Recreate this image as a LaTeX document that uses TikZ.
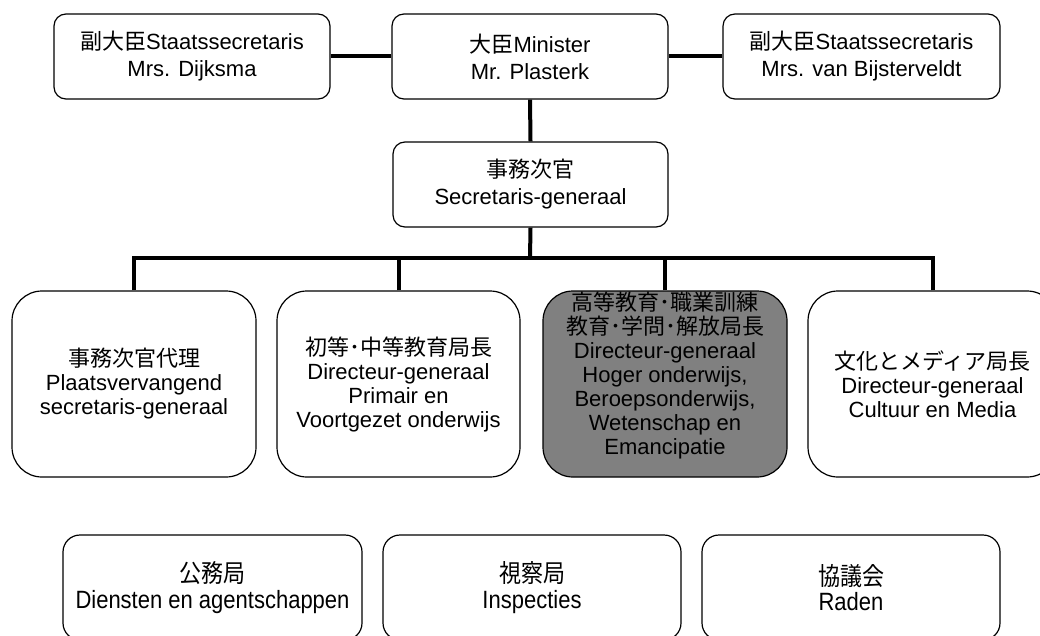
\documentclass[tikz,border=0pt]{standalone}
\usepackage{fontspec}
\setmainfont{Liberation Sans}
\newfontfamily\cjk{Noto Sans CJK JP}
\newfontfamily\narrowfont[FakeStretch=0.88]{Liberation Sans}
\newfontfamily\narrowcjk[FakeStretch=0.88]{Noto Sans CJK JP}
\begin{document}
\begin{tikzpicture}[x=1pt,y=-1pt,
  topbox/.style={draw=black, line width=1.2pt, rounded corners=12pt, fill=white,
    minimum width=276pt, minimum height=85pt, align=center, inner sep=0pt,
    font=\fontsize{22}{27}\selectfont},
  rowbox/.style={draw=black, line width=1.2pt, rounded corners=30pt, fill=white,
    minimum width=244pt, minimum height=186pt, align=center, inner sep=0pt,
    font=\fontsize{22}{24}\selectfont},
  botbox/.style={draw=black, line width=1.2pt, rounded corners=17pt, fill=white,
    minimum width=298pt, minimum height=105pt, align=center, inner sep=0pt,
    font=\narrowfont\fontsize{25}{25.5}\selectfont},
  link/.style={line width=4pt, black}
]
\useasboundingbox (0,0) rectangle (1040,636);
\fill[white] (0,0) rectangle (1040,636);

% top row
\node[topbox] (dep1) at (192,56.5) {{\cjk 副大臣}Staatssecretaris\\Mrs. Dijksma};
\node[topbox] (min) at (530,56.5) {{\cjk 大臣}Minister\\Mr. Plasterk};
\node[topbox, minimum width=277pt] (dep2) at (861.5,56.5) {{\cjk 副大臣}Staatssecretaris\\Mrs. van Bijsterveldt};
\node[topbox, minimum width=275pt] (sg) at (530.5,184.5) {{\cjk 事務次官}\\Secretaris-generaal};

% row of four
\node[rowbox] (r1) at (134,384) {{\cjk 事務次官代理}\\Plaatsvervangend\\secretaris-generaal};
\node[rowbox, minimum width=243pt] (r2) at (398.5,384) {{\cjk 初等･中等教育局長}\\Directeur-generaal\\Primair en\\Voortgezet onderwijs};
\node[rowbox, fill={rgb,255:red,128;green,128;blue,128}] (r3) at (665,384) {};
\node[align=center, inner sep=0pt, font=\fontsize{22}{24}\selectfont] (r3t) at (665,375)
  {{\cjk 高等教育･職業訓練}\\{\cjk 教育･学問･解放局長}\\Directeur-generaal\\Hoger onderwijs,\\Beroepsonderwijs,\\Wetenschap en\\Emancipatie};
\node[rowbox, minimum width=249pt] (r4) at (932.5,384) {{\cjk 文化とメディア局長}\\Directeur-generaal\\Cultuur en Media};

% bottom row
\node[botbox, minimum width=299pt] (b1) at (212.5,587.5) {{\narrowcjk 公務局}\\Diensten en agentschappen};
\node[botbox] (b2) at (532,587.5) {{\narrowcjk 視察局}\\Inspecties};
\node[botbox] (b3) at (851,587.5) {{\narrowcjk 協議会}\\Raden};

% connectors
\coordinate (bar) at (530,258);
\draw[link] (dep1.east) -- (min.west);
\draw[link] (min.east) -- (dep2.west);
\draw[link] (min.south) -- (sg.north);
\draw[link] (sg.south) -- (bar);
\draw[link] (r1.north) |- (bar);
\draw[link] (r2.north) |- (bar);
\draw[link] (r3.north) |- (bar);
\draw[link] (r4.north) |- (bar);
\end{tikzpicture}
\end{document}
